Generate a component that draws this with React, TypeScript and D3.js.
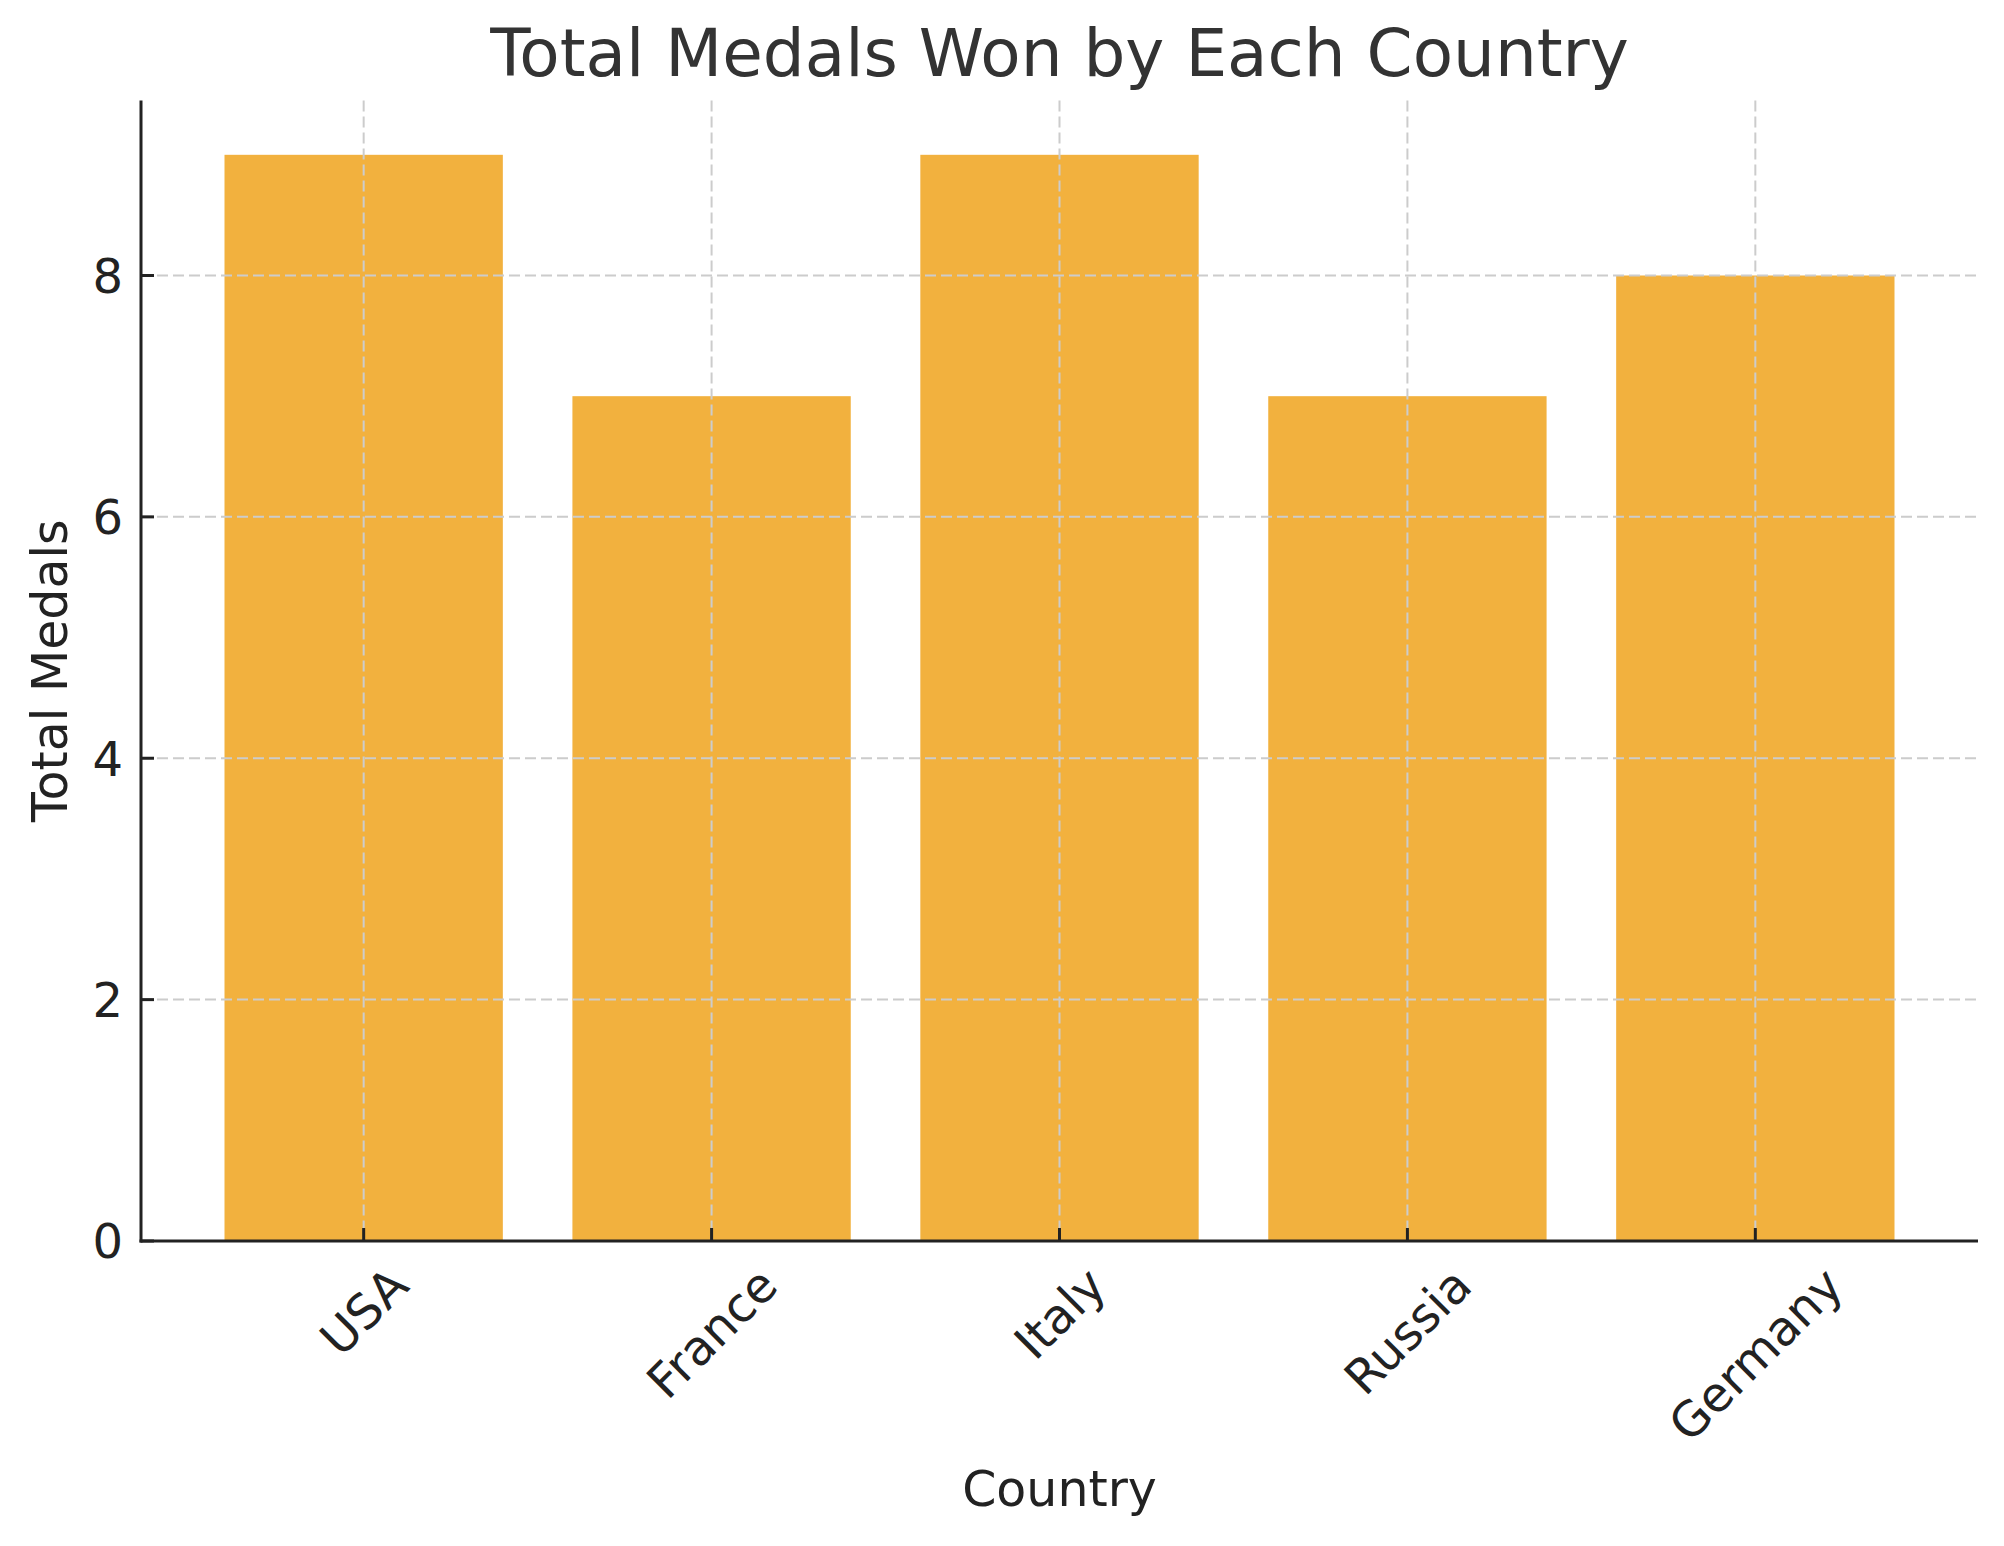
import React, { useEffect, useRef } from "react";
import * as d3 from "d3";

const countries: string[] = ["USA", "France", "Italy", "Russia", "Germany"];
const totalMedals: number[] = [9, 7, 9, 7, 8];
const yTicks: number[] = [0, 2, 4, 6, 8];

const W = 2004;
const H = 1546;
const M = { left: 141, right: 1978, top: 100.5, bottom: 1241 };
const FONT = "'DejaVu Sans', sans-serif";

export default function App() {
  const ref = useRef<SVGSVGElement | null>(null);

  useEffect(() => {
    const svg = d3.select(ref.current);
    svg.selectAll("*").remove();

    const x = d3
      .scaleBand<string>()
      .domain(countries)
      .range([M.left, M.right])
      .paddingInner(0.2)
      .paddingOuter(0.24);
    const y = d3.scaleLinear().domain([0, 9.45]).range([M.bottom, M.top]);

    svg.append("rect").attr("width", W).attr("height", H).attr("fill", "#ffffff");

    // bars
    svg
      .append("g")
      .selectAll("rect")
      .data(countries)
      .join("rect")
      .attr("x", (d) => x(d)!)
      .attr("width", x.bandwidth())
      .attr("y", (_d, i) => y(totalMedals[i]))
      .attr("height", (_d, i) => y(0) - y(totalMedals[i]))
      .attr("fill", "#F2B13E");

    // grid (above bars)
    const grid = svg.append("g").attr("stroke", "#cccccc").attr("stroke-width", 2).attr("stroke-dasharray", "11,5");
    grid
      .selectAll("line.h")
      .data(yTicks.filter((t) => t > 0))
      .join("line")
      .attr("x1", M.left)
      .attr("x2", M.right)
      .attr("y1", (d) => y(d))
      .attr("y2", (d) => y(d));
    grid
      .selectAll("line.v")
      .data(countries)
      .join("line")
      .attr("x1", (d) => x(d)! + x.bandwidth() / 2)
      .attr("x2", (d) => x(d)! + x.bandwidth() / 2)
      .attr("y1", M.top)
      .attr("y2", M.bottom);

    // axes spines
    svg
      .append("line")
      .attr("x1", M.left)
      .attr("x2", M.left)
      .attr("y1", M.top)
      .attr("y2", M.bottom + 1.5)
      .attr("stroke", "#222")
      .attr("stroke-width", 3);
    svg
      .append("line")
      .attr("x1", M.left - 1.5)
      .attr("x2", M.right)
      .attr("y1", M.bottom)
      .attr("y2", M.bottom)
      .attr("stroke", "#222")
      .attr("stroke-width", 3);

    // y ticks (inward)
    const yt = svg.append("g");
    yt.selectAll("line")
      .data(yTicks)
      .join("line")
      .attr("x1", M.left)
      .attr("x2", M.left + 13)
      .attr("y1", (d) => y(d))
      .attr("y2", (d) => y(d))
      .attr("stroke", "#222")
      .attr("stroke-width", 3);
    yt.selectAll("text")
      .data(yTicks)
      .join("text")
      .attr("x", 123)
      .attr("y", (d) => y(d))
      .attr("dy", "0.36em")
      .attr("text-anchor", "end")
      .attr("font-family", FONT)
      .attr("font-size", 48)
      .attr("fill", "#222")
      .text((d) => String(d));

    // x ticks (inward)
    const xt = svg.append("g");
    xt.selectAll("line")
      .data(countries)
      .join("line")
      .attr("x1", (d) => x(d)! + x.bandwidth() / 2)
      .attr("x2", (d) => x(d)! + x.bandwidth() / 2)
      .attr("y1", M.bottom)
      .attr("y2", M.bottom - 13)
      .attr("stroke", "#222")
      .attr("stroke-width", 3);
    const labelTop = 1260;
    const fs = 48;
    const lineH = fs * 0.95;
    xt.selectAll("text")
      .data(countries)
      .join("text")
      .attr("text-anchor", "middle")
      .attr("dy", "0.36em")
      .attr("font-family", FONT)
      .attr("font-size", fs)
      .attr("fill", "#222")
      .text((d) => d)
      .each(function (d) {
        const el = this as SVGTextElement;
        const w = el.getComputedTextLength();
        const bh = (w + lineH) / Math.SQRT2;
        const cx = x(d)! + x.bandwidth() / 2;
        const cy = labelTop + bh / 2;
        d3.select(el).attr("transform", `translate(${cx},${cy}) rotate(-45)`);
      });

    // axis labels
    svg
      .append("text")
      .attr("x", (M.left + M.right) / 2)
      .attr("y", 1506)
      .attr("text-anchor", "middle")
      .attr("font-family", FONT)
      .attr("font-size", 49)
      .attr("fill", "#222")
      .text("Country");
    svg
      .append("text")
      .attr("transform", `translate(67,${(M.top + M.bottom) / 2}) rotate(-90)`)
      .attr("text-anchor", "middle")
      .attr("font-family", FONT)
      .attr("font-size", 49)
      .attr("fill", "#222")
      .text("Total Medals");

    // title
    svg
      .append("text")
      .attr("x", (M.left + M.right) / 2)
      .attr("y", 76)
      .attr("text-anchor", "middle")
      .attr("font-family", FONT)
      .attr("font-size", 66)
      .attr("fill", "#333")
      .text("Total Medals Won by Each Country");
  }, []);

  return (
    <svg
      ref={ref}
      width={W}
      height={H}
      viewBox={`0 0 ${W} ${H}`}
      style={{ position: "absolute", left: 0, top: 0, display: "block" }}
    />
  );
}
